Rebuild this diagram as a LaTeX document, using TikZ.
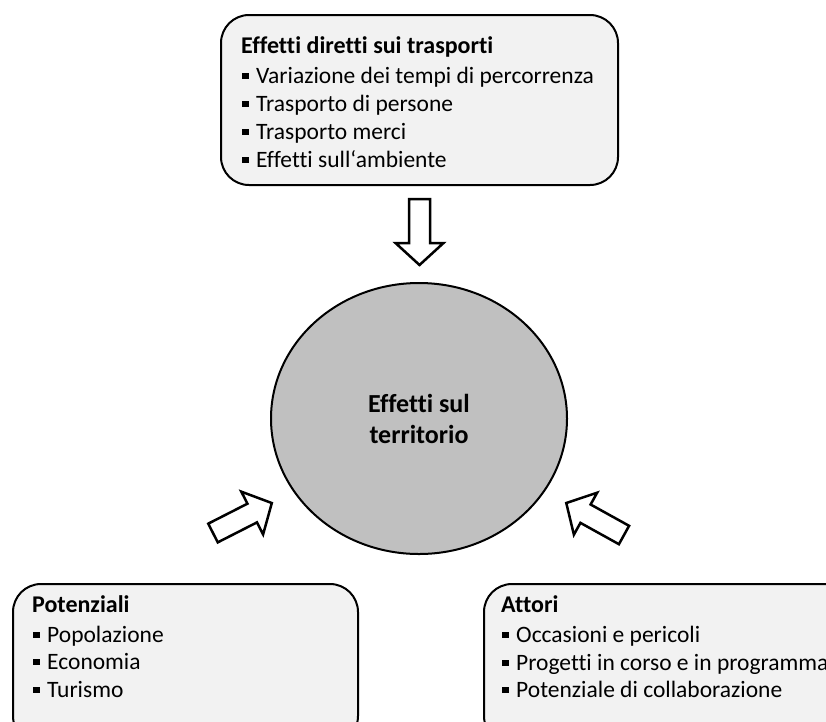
\documentclass[tikz,border=0pt]{standalone}
\usepackage{fontspec}
\setmainfont{Carlito}[Ligatures={NoCommon}]
\usetikzlibrary{shapes.geometric}
\definecolor{panelgrey}{HTML}{F2F2F2}
\definecolor{circgrey}{HTML}{C0C0C0}
\newcommand{\bsq}{\rule[4pt]{6.5pt}{6.5pt}\hspace{7.5pt}}
\tikzset{
  panel/.style={draw=black, line width=2pt, rounded corners=28pt, fill=panelgrey, inner sep=0pt, anchor=north west},
  ttl/.style={font=\fontsize{24}{24}\selectfont\bfseries, anchor=base west, inner sep=0pt},
  itm/.style={font=\fontsize{23.5}{23.5}\selectfont, anchor=base west, inner sep=0pt},
  ctxt/.style={font=\fontsize{26}{31}\selectfont\bfseries, inner sep=0pt, anchor=base},
  blockarrow/.pic={
    \draw[line width=2.5pt, line join=miter, fill=white]
      (0,-10.5) -- (44,-10.5) -- (44,-24) -- (66,0) -- (44,24) -- (44,10.5) -- (0,10.5) -- cycle;
  }
}
\begin{document}
\begin{tikzpicture}[x=1pt,y=-1pt]
\useasboundingbox (0,0) rectangle (826,721);
\clip (0,0) rectangle (826,721);
% top box
\node[panel, minimum width=397pt, minimum height=170pt] (topbox) at (220,14) {};
\node[ttl] (t0) at (241,53) {Effetti diretti sui trasporti};
\node[itm] (t1) at (242,83) {\bsq Variazione dei tempi di percorrenza};
\node[itm] (t2) at (242,111) {\bsq Trasporto di persone};
\node[itm] (t3) at (242,139) {\bsq Trasporto merci};
\node[itm] (t4) at (242,167) {\bsq Effetti sull‘ambiente};
% circle
\node[ellipse, draw=black, line width=2pt, fill=circgrey, minimum width=296pt, minimum height=271pt] (terr) at (419,418.5) {};
\node[ctxt] (c1) at (419,412) {Effetti sul};
\node[ctxt] (c2) at (419,443) {territorio};
% bottom left box
\node[panel, minimum width=345pt, minimum height=160pt] (leftbox) at (12,583) {};
\node[ttl] (l0) at (32,612) {Potenziali};
\node[itm] (l1) at (33,642) {\bsq Popolazione};
\node[itm] (l2) at (33,669) {\bsq Economia};
\node[itm] (l3) at (33,697) {\bsq Turismo};
% bottom right box
\node[panel, minimum width=400pt, minimum height=160pt] (rightbox) at (483,583) {};
\node[ttl] (r0) at (501,612) {Attori};
\node[itm] (r1) at (502,642) {\bsq Occasioni e pericoli};
\node[itm] (r2) at (502,670) {\bsq Progetti in corso e in programma};
\node[itm] (r3) at (502,697) {\bsq Potenziale di collaborazione};
% block arrows
\coordinate (a1) at (419.5,199);
\coordinate (a2) at (213,533);
\coordinate (a3) at (624,535);
\pic[rotate=-90] at (a1) {blockarrow};
\pic[rotate=27] at (a2) {blockarrow};
\pic[rotate=151] at (a3) {blockarrow};
\end{tikzpicture}
\end{document}
